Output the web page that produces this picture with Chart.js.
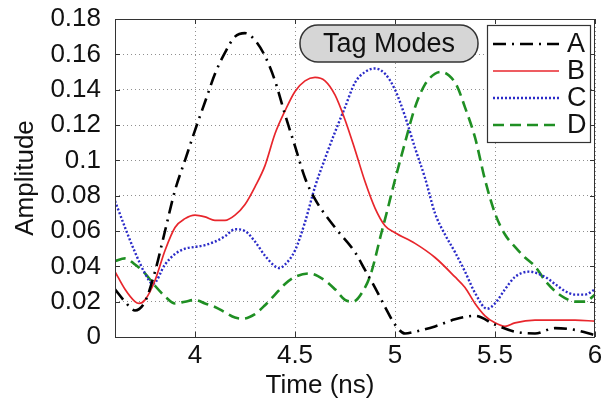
<!DOCTYPE html>
<html>
<head>
<meta charset="utf-8">
<script src="https://cdn.jsdelivr.net/npm/chart.js@4"></script>
<style>
  html, body { margin: 0; padding: 0; background: #fff; }
  #wrap { width: 602px; height: 408px; }
</style>
</head>
<body>
<div id="wrap"><canvas id="modes" width="602" height="408"></canvas></div>
<script>
const X_TICKS = [4, 4.5, 5, 5.5, 6];
const Y_TICKS = [0, 0.02, 0.04, 0.06, 0.08, 0.1, 0.12, 0.14, 0.16, 0.18];

// mode A (dash-dot)
const timeA = [3.6, 3.65, 3.7, 3.75, 3.8, 3.85, 3.9, 3.95, 4.0, 4.05, 4.1, 4.15, 4.2, 4.25, 4.3, 4.35, 4.4, 4.45, 4.5, 4.55, 4.6, 4.7, 4.8, 4.85, 4.9, 4.95, 5.0, 5.05, 5.1, 5.2, 5.3, 5.4, 5.5, 5.6, 5.7, 5.8, 5.9, 6.0];
const ampA  = [0.027, 0.020, 0.015, 0.020, 0.037, 0.060, 0.083, 0.100, 0.117, 0.133, 0.149, 0.161, 0.170, 0.172, 0.168, 0.159, 0.145, 0.126, 0.108, 0.090, 0.078, 0.062, 0.048, 0.038, 0.028, 0.017, 0.007, 0.002, 0.003, 0.006, 0.010, 0.012, 0.007, 0.003, 0.002, 0.005, 0.004, 0.001];

// mode B (solid)
const timeB = [3.6, 3.65, 3.7, 3.72, 3.75, 3.8, 3.85, 3.9, 3.95, 4.0, 4.05, 4.1, 4.15, 4.2, 4.25, 4.3, 4.35, 4.4, 4.45, 4.5, 4.55, 4.6, 4.65, 4.7, 4.75, 4.8, 4.85, 4.9, 4.95, 5.0, 5.1, 5.2, 5.3, 5.35, 5.4, 5.45, 5.5, 5.55, 5.6, 5.7, 5.8, 5.9, 6.0];
const ampB  = [0.037, 0.027, 0.020, 0.019, 0.021, 0.032, 0.049, 0.062, 0.067, 0.069, 0.068, 0.066, 0.066, 0.069, 0.075, 0.085, 0.097, 0.115, 0.128, 0.139, 0.145, 0.147, 0.145, 0.137, 0.123, 0.106, 0.088, 0.073, 0.063, 0.059, 0.053, 0.045, 0.034, 0.028, 0.019, 0.012, 0.008, 0.006, 0.008, 0.0095, 0.0095, 0.0095, 0.009];

// mode C (dotted)
const timeC = [3.6, 3.65, 3.7, 3.75, 3.79, 3.85, 3.9, 3.95, 4.0, 4.05, 4.1, 4.15, 4.2, 4.25, 4.3, 4.35, 4.4, 4.42, 4.45, 4.5, 4.55, 4.6, 4.65, 4.7, 4.75, 4.8, 4.85, 4.9, 4.95, 5.0, 5.05, 5.1, 5.15, 5.2, 5.25, 5.3, 5.35, 5.4, 5.46, 5.5, 5.55, 5.6, 5.67, 5.75, 5.8, 5.85, 5.9, 5.95, 6.0];
const ampC  = [0.077, 0.062, 0.048, 0.036, 0.030, 0.041, 0.047, 0.050, 0.051, 0.052, 0.054, 0.057, 0.061, 0.060, 0.054, 0.046, 0.040, 0.039, 0.041, 0.049, 0.065, 0.085, 0.101, 0.116, 0.130, 0.144, 0.150, 0.152, 0.149, 0.140, 0.125, 0.107, 0.090, 0.070, 0.058, 0.048, 0.037, 0.025, 0.016, 0.019, 0.027, 0.034, 0.037, 0.034, 0.030, 0.026, 0.024, 0.024, 0.027];

// mode D (dashed)
const timeD = [3.6, 3.65, 3.7, 3.75, 3.8, 3.85, 3.9, 3.95, 4.0, 4.05, 4.1, 4.15, 4.2, 4.24, 4.3, 4.35, 4.4, 4.45, 4.5, 4.57, 4.65, 4.7, 4.75, 4.79, 4.84, 4.88, 4.93, 4.96, 5.0, 5.05, 5.1, 5.15, 5.2, 5.23, 5.27, 5.31, 5.35, 5.4, 5.45, 5.5, 5.55, 5.6, 5.65, 5.7, 5.75, 5.8, 5.85, 5.9, 5.95, 6.0];
const ampD  = [0.043, 0.0445, 0.041, 0.036, 0.029, 0.023, 0.019, 0.020, 0.021, 0.019, 0.017, 0.014, 0.011, 0.0104, 0.013, 0.018, 0.024, 0.030, 0.034, 0.036, 0.032, 0.027, 0.021, 0.020, 0.026, 0.036, 0.058, 0.071, 0.089, 0.110, 0.130, 0.143, 0.149, 0.150, 0.148, 0.142, 0.130, 0.113, 0.089, 0.070, 0.058, 0.051, 0.045, 0.040, 0.032, 0.026, 0.022, 0.020, 0.020, 0.024];

const FONT = "'Liberation Sans', Arial, Helvetica, sans-serif";
const INK = '#111';

const pairs = (ts, vs) => ts.map((t, i) => ({ x: t, y: vs[i] }));

// box around the axes with short inward ticks on all four sides
const framePlugin = {
  id: 'frame',
  afterDatasetsDraw(chart) {
    const { ctx, chartArea: a, scales } = chart;
    ctx.save();
    ctx.strokeStyle = '#333';
    ctx.lineWidth = 1;
    ctx.strokeRect(a.left + 0.5, a.top + 0.5, a.width - 1, a.height);
    const len = 5;
    ctx.beginPath();
    X_TICKS.forEach((v) => {
      const px = Math.round(scales.x.getPixelForValue(v)) + 0.5;
      ctx.moveTo(px, a.bottom); ctx.lineTo(px, a.bottom - len);
      ctx.moveTo(px, a.top); ctx.lineTo(px, a.top + len);
    });
    Y_TICKS.forEach((v) => {
      const py = Math.round(scales.y.getPixelForValue(v)) + 0.5;
      ctx.moveTo(a.left, py); ctx.lineTo(a.left + len, py);
      ctx.moveTo(a.right, py); ctx.lineTo(a.right - len, py);
    });
    ctx.stroke();
    ctx.restore();
  }
};

// x axis title, tag label and legend drawn on top of the plot
const overlayPlugin = {
  id: 'overlay',
  afterDraw(chart) {
    const { ctx, chartArea: a } = chart;
    ctx.save();

    ctx.fillStyle = INK;
    ctx.font = `26px ${FONT}`;
    ctx.textAlign = 'center';
    ctx.textBaseline = 'middle';
    ctx.fillText('Time (ns)', a.left + 205, 386);

    // "Tag Modes" pill
    const tx = a.left + 185, ty = a.top + 6, tw = 178, th = 37, r = 18;
    ctx.beginPath();
    ctx.roundRect(tx, ty, tw, th, r);
    ctx.fillStyle = '#d6d6d6';
    ctx.fill();
    ctx.lineWidth = 1.5;
    ctx.strokeStyle = '#333';
    ctx.stroke();
    ctx.fillStyle = INK;
    ctx.font = `27px ${FONT}`;
    ctx.fillText('Tag Modes', tx + tw / 2, ty + th / 2 + 1);

    // legend
    const lx = a.left + 372, ly = a.top + 6, lw = 103, lh = 117;
    ctx.fillStyle = '#fff';
    ctx.fillRect(lx, ly, lw, lh);
    ctx.lineWidth = 1.2;
    ctx.strokeStyle = '#333';
    ctx.strokeRect(lx + 0.5, ly + 0.5, lw, lh);
    ctx.textAlign = 'left';
    ctx.font = `27px ${FONT}`;
    chart.data.datasets.forEach((ds, i) => {
      const yRow = ly + 19 + i * 27;
      ctx.beginPath();
      ctx.setLineDash(ds.borderDash || []);
      ctx.lineWidth = ds.borderWidth;
      ctx.strokeStyle = ds.borderColor;
      ctx.moveTo(lx + 6, yRow);
      ctx.lineTo(lx + 72, yRow);
      ctx.stroke();
      ctx.setLineDash([]);
      ctx.fillStyle = INK;
      ctx.fillText(ds.label, lx + 80, yRow + 1);
    });
    ctx.restore();
  }
};

const gridStyle = {
  color: '#8f8f8f',
  lineWidth: 1,
  drawTicks: false
};

new Chart(document.getElementById('modes'), {
  type: 'line',
  data: {
    datasets: [
      { label: 'A', data: pairs(timeA, ampA), borderColor: '#000', borderWidth: 2.6, borderDash: [13, 6, 2, 6] },
      { label: 'B', data: pairs(timeB, ampB), borderColor: '#e8262c', borderWidth: 1.7 },
      { label: 'C', data: pairs(timeC, ampC), borderColor: '#2b2bc8', borderWidth: 2.4, borderDash: [2, 2] },
      { label: 'D', data: pairs(timeD, ampD), borderColor: '#1f8f23', borderWidth: 2.6, borderDash: [11, 6] }
    ]
  },
  options: {
    responsive: false,
    animation: false,
    parsing: false,
    layout: { padding: { left: 0, top: 19, right: 7, bottom: 0 } },
    elements: {
      point: { radius: 0 },
      line: { cubicInterpolationMode: 'monotone', fill: false, borderCapStyle: 'butt' }
    },
    scales: {
      x: {
        type: 'linear',
        min: 3.6,
        max: 6,
        afterBuildTicks: (s) => { s.ticks = X_TICKS.map((v) => ({ value: v })); },
        afterFit: (s) => { s.height = 71; s.paddingLeft = 0; s.paddingRight = 0; },
        grid: gridStyle,
        border: { display: false, dash: [1, 3] },
        ticks: {
          color: INK,
          padding: 3,
          maxRotation: 0,
          autoSkip: false,
          font: { family: FONT, size: 26 },
          callback: (v) => String(v)
        }
      },
      y: {
        min: 0,
        max: 0.18,
        afterBuildTicks: (s) => { s.ticks = Y_TICKS.map((v) => ({ value: v })); },
        afterFit: (s) => { s.width = 115; s.paddingTop = 0; s.paddingBottom = 0; },
        grid: gridStyle,
        border: { display: false, dash: [1, 3] },
        ticks: {
          color: INK,
          padding: 14,
          autoSkip: false,
          font: { family: FONT, size: 26 },
          callback: (v) => String(+v.toFixed(2))
        },
        title: {
          display: true,
          text: 'Amplitude',
          color: INK,
          font: { family: FONT, size: 26 },
          padding: { top: 10, bottom: 0 }
        }
      }
    },
    plugins: {
      legend: { display: false },
      tooltip: { enabled: false }
    }
  },
  plugins: [framePlugin, overlayPlugin]
});
</script>
</body>
</html>
